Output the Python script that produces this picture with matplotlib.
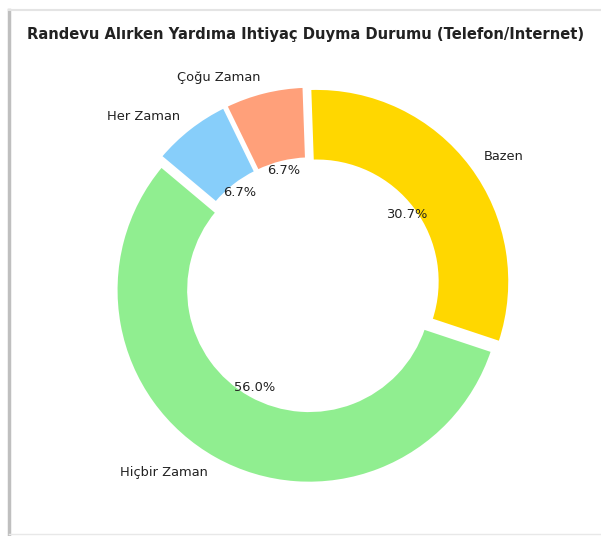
import matplotlib
matplotlib.use("Agg")
import matplotlib.pyplot as plt
from matplotlib.lines import Line2D

labels = ["Bazen", "Hiçbir Zaman", "Her Zaman", "Çoğu Zaman"]
counts = [23, 42, 5, 5]
colors = ["#FFD700", "#90EE90", "#87CEFA", "#FFA07A"]
title = "Randevu Alırken Yardıma Ihtiyaç Duyma Durumu (Telefon/Internet)"

fig = plt.figure(figsize=(6.01, 5.36), dpi=100)

# soft screenshot frame
fig.add_artist(Line2D([9/601, 9/601], [0, 1 - 10/536], transform=fig.transFigure,
                      color="#b0b0b0", lw=2.5, alpha=0.8))
fig.add_artist(Line2D([9/601, 1], [1 - 10/536, 1 - 10/536], transform=fig.transFigure,
                      color="#e4e4e4", lw=1.5))
fig.add_artist(Line2D([9/601, 1], [2/536, 2/536], transform=fig.transFigure,
                      color="#e8e8e8", lw=1.0))

ax = fig.add_axes([70.75/601, 9.75/536, 482.5/601, 482.5/536])
ax.pie(counts, labels=labels, colors=colors, autopct="%1.1f%%",
       startangle=92, counterclock=False, explode=[0.03] * 4,
       pctdistance=0.58, labeldistance=1.08,
       wedgeprops=dict(width=0.375, edgecolor="white", linewidth=2),
       textprops=dict(fontsize=9.4, color="#222222"))
ax.set_aspect("equal")

fig.text(306/601, 1 - 35/536, title, ha="center", va="center",
         fontsize=10.6, fontweight="bold", color="#222222")

plt.savefig("out.png", dpi=100)
